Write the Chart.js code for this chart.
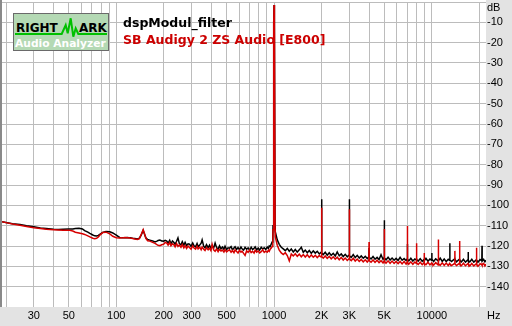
<!DOCTYPE html>
<html><head><meta charset="utf-8">
<script src="https://cdn.jsdelivr.net/npm/chart.js@4.4.1/dist/chart.umd.min.js"></script>
<style>
html,body{margin:0;padding:0;background:#e3e3e3;}
#wrap{position:relative;width:512px;height:326px;overflow:hidden;}
#c{position:absolute;left:0;top:0;}
.t{position:absolute;left:123px;font-family:'DejaVu Sans';font-weight:bold;font-size:12.5px;line-height:15px;white-space:nowrap;}
#logo{position:absolute;left:13px;top:13px;width:94px;height:36px;border:1px solid #6a6a6a;background:#b4d9b4;overflow:hidden;}
#logo span{position:absolute;font-family:'DejaVu Sans';font-weight:bold;white-space:nowrap;}
#logo svg{position:absolute;left:0;top:0;}
</style></head>
<body><div id="wrap">
<canvas id="c" width="512" height="326"></canvas>
<div id="logo">
 <svg width="94" height="36"><polyline points="1,20 47.7,20 51.7,11 53.7,19.3 56.7,4.3 59.3,22.7 61.7,14.3 64.3,20 93,20" fill="none" stroke="#00c000" stroke-width="2"/></svg>
 <span style="left:2px;top:7.5px;font-size:12px;line-height:12px;color:#000">RIGHT</span>
 <span style="left:65px;top:7.5px;font-size:12px;line-height:12px;color:#000">ARK</span>
 <span style="left:1px;top:23.5px;font-size:10.7px;line-height:11px;color:#fff">Audio Analyzer</span>
</div>
<div class="t" style="top:15px;color:#000">dspModul_filter</div>
<div class="t" style="top:31.6px;color:#cc0000">SB Audigy 2 ZS Audio [E800]</div>
</div>
<script>
const FREQ = [
 18.9,20,22,24.5,27,30,33,36,40,43,46,50,53,55,58,61,63,66,68,71,73,75,77,79,82,86,91,95,100,105,109,113,118,122,127,131,136,140,144,148,151,154,158,163,170,176,181,184,189,194,200,204,
 209,213,218,222,227,232,236,241,246,251,257,262,268,273,279,285,291,298,305,311,318,325,330,338,345,350,358,365,373,382,390,398,405,414,423,432,442,451,461,471,481,489,500,511,522,534,545,557,566,579,591,604,617,627,641,655,670,685,700,716,731,747,759,776,793,810,829,847,866,885,905,920,932,945,960,972,982,
 985,995,1000,1005,1015,
 1018,1048,1079,1111,1144,1178,1213,1249,1286,1324,1363,1403,1445,1488,1532,1577,1624,1672,1722,1773,1825,1879,1935,1990,2000,2010,2050,2110,2173,2237,
 2303,2372,2442,2514,2589,2665,2744,2826,2910,2990,3000,3010,3085,3176,3270,3367,3467,3570,3676,3785,3897,3990,4000,4010,4120,4240,4366,4496,4629,4766,
 4907,4990,5000,5010,5130,5282,5439,5600,5766,5937,6113,6294,6480,6673,6870,6980,7000,7020,7150,7362,7580,7805,7980,8000,8020,8200,8440,8690,8930,8950,
 8970,9180,9450,9730,9980,10000,10020,10270,10580,10970,11000,11030,11300,11640,11980,12340,12700,12970,13000,13030,13330,13970,14000,14030,14330,14960,15000,15040,15400,15860,
 16330,16960,17000,17040,17400,17920,18450,19150,19200,19250,19650,20230,20750,20800,20850,21300,21700,22050
];
// black trace
const DSP_MODUL_FILTER = [
 -108.1,-108.4,-109.0,-109.4,-110.0,-110.5,-111.1,-111.4,-111.8,-111.9,-111.8,-111.7,-111.6,-111.4,-111.3,-111.6,-112.4,-113.2,-113.8,-114.6,-115.0,-115.1,-114.8,-114.2,-113.3,-112.9,-113.0,-113.6,-114.7,-115.8,-116.0,-115.9,-115.8,-116.0,-116.2,-116.3,-116.5,-116.2,-114.5,-112.3,-114.2,-116.0,-116.8,-117.1,-117.5,-118.0,-117.6,-117.3,-117.1,-117.5,-117.6,-117.2,
 -117.6,-118.6,-117.2,-118.9,-117.5,-118.3,-119.2,-117.7,-116.0,-118.8,
 -119.4,-117.9,-119.6,-118.2,-119.8,-118.9,-119.1,-120.2,-118.5,-119.9,
 -120.4,-118.8,-120.3,-119.5,-118.6,-117.0,-120.1,-120.9,-119.3,-120.8,
 -119.6,-121.2,-120.0,-121.0,-118.5,-120.7,-121.5,-119.9,-121.4,-120.5,
 -121.6,-120.1,-121.8,-120.9,-121.1,-120.3,-121.9,-121.0,-120.4,-121.7,
 -120.8,-121.9,-120.5,-121.4,-122.0,-120.7,-121.6,-120.9,-122.1,-120.6,
 -121.8,-121.1,-120.4,-121.9,-121.0,-122.0,-120.6,-121.5,-120.9,-121.7,
 -120.5,-121.2,-120.0,-120.3,-119.0,-118.0,-116.0,
 -110,-10,-1.5,-10,-110,
 -113.0,-117.0,-119.2,-120.6,-121.4,-122.3,-121.2,-122.6,-121.5,-122.9,
 -121.7,-123.0,-121.9,-120.6,-123.1,-122.0,-123.3,-122.2,-123.6,-122.4,
 -123.5,-122.6,-123.9,-123.0,-97.0,-123.4,-124.2,-123.1,-124.5,-123.3,
 -124.6,-123.6,-124.9,-122.9,-124.8,-123.9,-125.2,-124.1,-125.3,-124.4,
 -97.0,-124.8,-125.6,-124.2,-125.7,-124.6,-125.9,-124.9,-126.0,-125.1,
 -126.2,-125.3,-121.0,-125.6,-126.4,-125.2,-126.5,-125.6,-126.7,-124.3,
 -126.6,-125.7,-107.3,-125.9,-126.8,-125.5,-126.9,-125.9,-127.0,-126.1,
 -127.1,-125.6,-127.0,-126.2,-127.2,-126.3,-119.0,-126.5,-127.3,-126.0,
 -127.4,-126.4,-126.9,-126.1,-126.7,-127.4,-126.2,-127.5,-126.6,-126.5,
 -127.2,-126.1,-127.5,-126.4,-127.0,-123.4,-126.5,-127.6,-126.3,-127.3,
 -126.6,-127.2,-126.0,-127.6,-126.4,-127.7,-126.5,-127.1,-118.7,-126.9,
 -127.6,-126.4,-127.0,-126.6,-127.8,-126.5,-127.1,-126.9,-127.8,-126.5,
 -127.9,-126.7,-122.9,-127.2,-127.8,-126.5,-127.9,-126.8,-127.1,-127.0,
 -127.9,-126.7,-127.3,-119.9,-127.4,-126.6,-127.8,-127.0
];
// red trace
const SB_AUDIGY_2_ZS = [
 -108.1,-108.5,-109.2,-109.8,-110.4,-111.0,-111.4,-111.8,-112.0,-112.1,-112.2,-112.2,-112.6,-113.2,-113.6,-114.0,-114.3,-115.0,-115.5,-116.2,-116.4,-116.2,-115.5,-114.5,-113.4,-113.2,-114.0,-115.2,-115.9,-116.1,-116.0,-115.8,-115.9,-116.1,-116.3,-116.6,-116.8,-116.4,-114.3,-112.0,-114.0,-116.3,-117.4,-117.6,-118.2,-118.7,-119.3,-119.6,-119.8,-119.4,-119.1,-118.2,
 -118.6,-119.6,-118.3,-119.9,-118.9,-119.4,-120.4,-118.8,-120.2,-119.5,
 -120.6,-119.3,-120.9,-119.8,-121.2,-120.0,-120.7,-121.6,-119.9,-121.0,
 -121.5,-120.1,-121.4,-120.6,-121.8,-120.5,-121.6,-122.2,-120.8,-121.9,
 -121.1,-122.3,-119.2,-121.9,-122.6,-121.4,-122.8,-121.6,-122.5,-122.0,
 -123.0,-121.8,-122.9,-122.3,-121.9,-123.1,-122.2,-123.3,-121.9,-122.7,
 -123.4,-122.1,-123.0,-122.5,-123.6,-124.6,-122.4,-123.1,-122.0,-123.2,
 -122.6,-123.5,-122.1,-123.0,-122.4,-123.4,-122.8,-121.9,-123.1,-122.5,
 -123.0,-122.1,-122.6,-121.6,-121.0,-120.3,-118.8,
 -112,-10,-1.5,-10,-112,
 -115.5,-119.6,-122.0,-123.4,-124.2,-123.3,-124.7,-127.3,-123.9,-124.9,
 -123.8,-125.1,-124.0,-125.3,-124.2,-125.4,-124.3,-125.6,-124.4,-125.5,
 -124.6,-125.7,-124.7,-125.4,-101.2,-125.2,-126.0,-124.9,-126.1,-125.1,
 -126.3,-125.3,-126.5,-125.5,-126.8,-125.6,-126.9,-125.9,-127.1,-126.2,
 -101.9,-126.4,-127.2,-126.0,-127.4,-126.4,-127.6,-126.6,-127.8,-126.8,
 -127.9,-126.9,-118.0,-127.2,-128.0,-126.9,-128.1,-127.0,-128.2,-127.2,
 -128.3,-127.3,-111.7,-127.5,-128.4,-127.3,-128.5,-127.4,-128.6,-127.6,
 -128.7,-127.6,-128.8,-127.6,-128.9,-127.8,-110.2,-128.1,-128.9,-127.8,
 -129.0,-127.9,-128.6,-118.7,-128.4,-129.1,-128.0,-129.2,-128.2,-123.4,
 -128.5,-129.2,-128.0,-129.3,-128.3,-128.6,-128.4,-129.4,-128.2,-129.3,
 -116.8,-128.7,-129.5,-128.3,-129.5,-128.4,-129.6,-128.6,-128.5,-128.8,
 -129.6,-128.5,-122.4,-128.8,-129.6,-128.5,-117.5,-128.8,-129.7,-128.5,
 -129.7,-128.6,-128.9,-128.7,-129.8,-128.6,-129.8,-128.7,-120.9,-129.0,
 -129.9,-128.7,-129.3,-129.0,-129.2,-128.6,-129.8,-128.9
];
const X_GRID = [20,30,40,50,60,70,80,90,100,200,300,400,500,600,700,800,900,1000,2000,3000,4000,5000,6000,7000,8000,9000,10000,20000];
const X_LABEL_AT = [30,50,100,200,300,500,1000,2000,3000,5000,10000];
const X_LABEL_TEXT = ['30','50','100','200','300','500','1000','2K','3K','5K','10000'];
const Y_GRID = [0,-10,-20,-30,-40,-50,-60,-70,-80,-90,-100,-110,-120,-130,-140,-150];
const Y_LABEL_AT = [-10,-20,-30,-40,-50,-60,-70,-80,-90,-100,-110,-120,-130,-140];
const X_UNIT = 'Hz', Y_UNIT = 'dB';

const pts = arr => FREQ.map((f,i)=>({x:f,y:arr[i]}));
const FONT = {family:'Liberation Sans', size:11};
const frame = {
 id:'frame',
 beforeDraw(c){
  const {ctx, chartArea:a} = c;
  ctx.save();
  ctx.fillStyle='#e3e3e3'; ctx.fillRect(0,0,c.width,c.height);
  ctx.fillStyle='#ffffff'; ctx.fillRect(0,0,a.right,a.bottom);
  ctx.restore();
 },
 afterDraw(c){
  const {ctx, chartArea:a} = c;
  ctx.save();
  ctx.fillStyle='#8a8a8a'; ctx.fillRect(0,0,2,a.bottom);
  ctx.fillStyle='#000'; ctx.font='11px "Liberation Sans"';
  ctx.textAlign='left'; ctx.textBaseline='middle';
  ctx.fillText(Y_UNIT, a.right+1, 8);
  ctx.fillText(X_UNIT, a.right+1, 315.5);
  ctx.restore();
 }
};
new Chart(document.getElementById('c'), {
 type:'line',
 data:{datasets:[
  {label:'SB Audigy 2 ZS Audio [E800]', data:pts(SB_AUDIGY_2_ZS), borderColor:'#d60000', borderWidth:1.5, pointRadius:0, tension:0, order:0},
  {label:'dspModul_filter', data:pts(DSP_MODUL_FILTER), borderColor:'#000000', borderWidth:1.5, pointRadius:0, tension:0, order:1}
 ]},
 options:{
  responsive:false, animation:false, events:[], devicePixelRatio:1,
  layout:{padding:{left:2,top:2,right:0,bottom:0}},
  plugins:{legend:{display:false}, tooltip:{enabled:false}, title:{display:false}},
  scales:{
   x:{type:'logarithmic', position:'bottom', min:18.86, max:22050,
    afterBuildTicks(s){ s.ticks = X_GRID.map(v=>({value:v})); },
    afterFit(s){ s.height = 19; s.paddingLeft = 0; s.paddingRight = 0; },
    grid:{color:'#bcbcbc', lineWidth:1, drawTicks:false},
    border:{display:false},
    ticks:{autoSkip:false, maxRotation:0, minRotation:0, padding:2, color:'#000', font:FONT,
     callback(v){ const i = X_LABEL_AT.indexOf(v); return i>=0 ? X_LABEL_TEXT[i] : ''; }}
   },
   y:{type:'linear', position:'right', min:-150, max:0,
    afterBuildTicks(s){ s.ticks = Y_GRID.map(v=>({value:v})); },
    afterFit(s){ s.width = 26; s.paddingTop = 0; s.paddingBottom = 0; },
    grid:{color:(ctx)=> (ctx.tick && ctx.tick.value===-150) ? 'rgba(0,0,0,0)' : '#bcbcbc', lineWidth:1, drawTicks:false},
    border:{display:false},
    ticks:{padding:1, color:'#000', font:FONT,
     callback(v){ return Y_LABEL_AT.indexOf(v)>=0 ? String(v) : ''; }}
   }
  }
 },
 plugins:[frame]
});
</script>
</body></html>
